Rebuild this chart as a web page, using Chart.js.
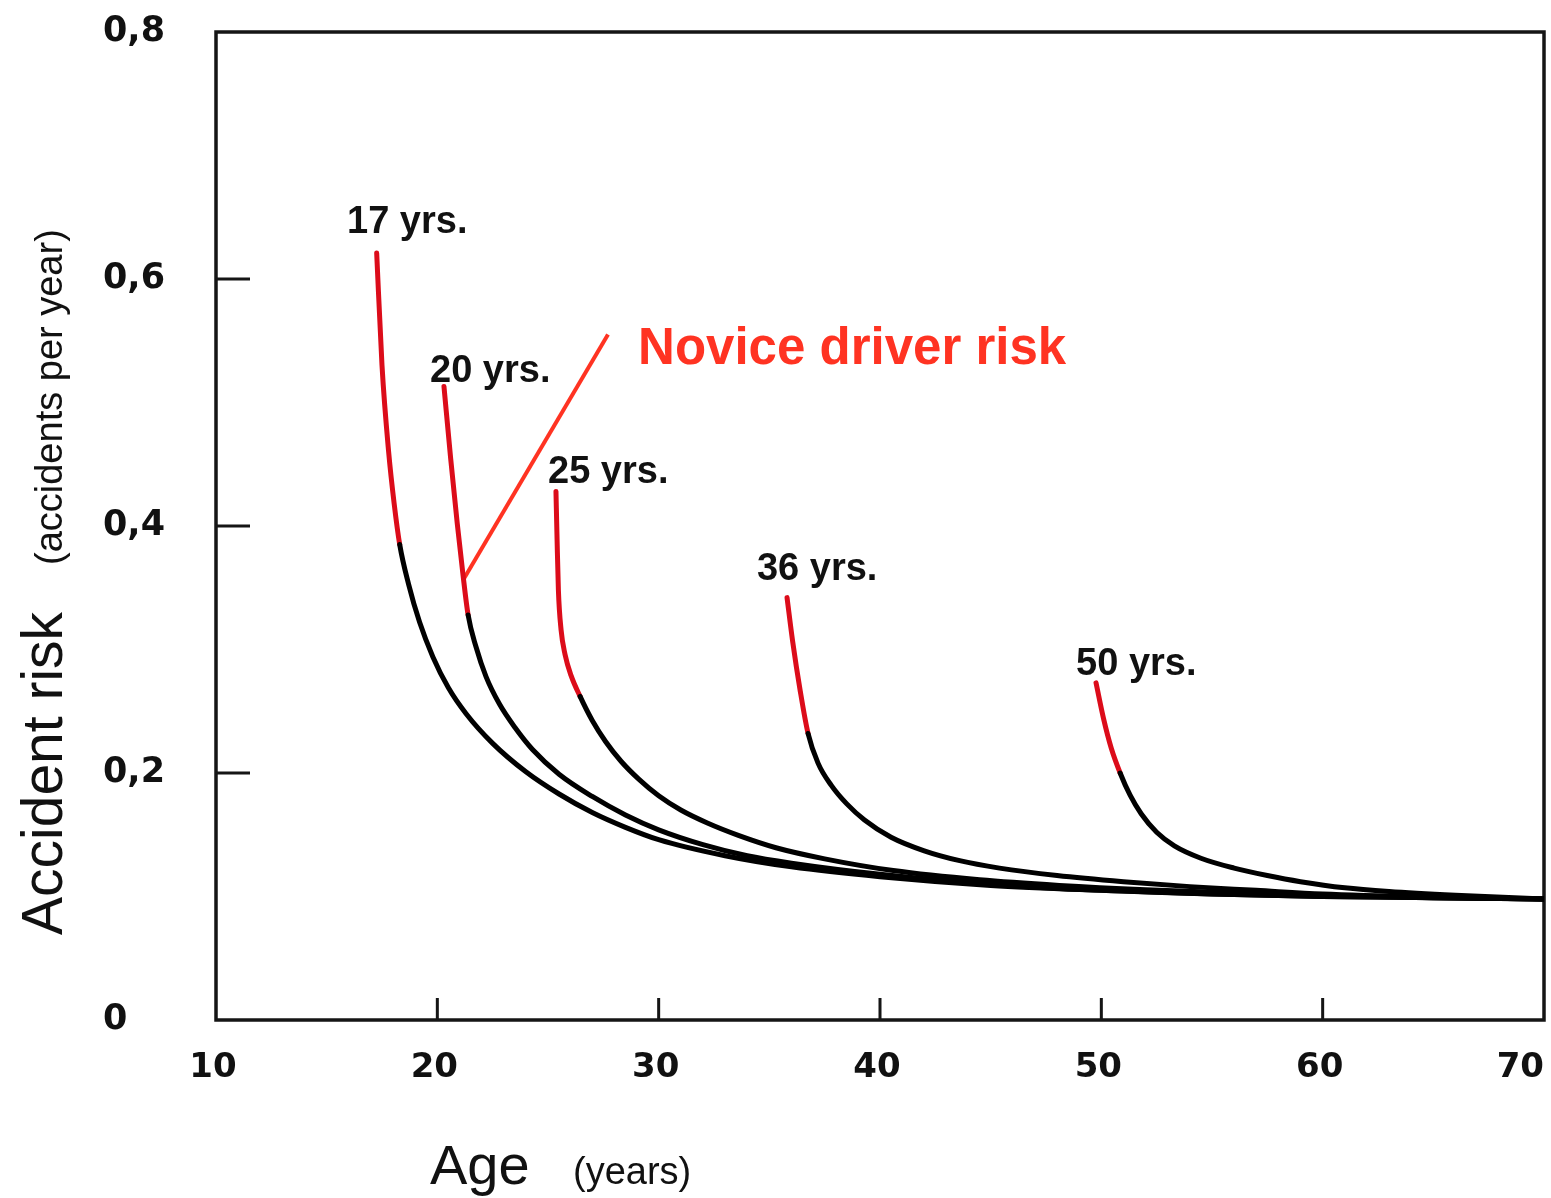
<!DOCTYPE html>
<html>
<head>
<meta charset="utf-8">
<script src="https://cdn.jsdelivr.net/npm/chart.js@4/dist/chart.umd.min.js"></script>
<style>
html,body{margin:0;padding:0;background:#fff;}
#wrap{width:1551px;height:1198px;position:relative;}
</style>
</head>
<body>
<div id="wrap"><canvas id="c" width="1551" height="1198"></canvas></div>
<script>
// ---- Data ----
const xTickValues = [10, 20, 30, 40, 50, 60, 70];
const yTickValues = [0, 0.2, 0.4, 0.6, 0.8];
const curveLabels = ['17 yrs.', '20 yrs.', '25 yrs.', '36 yrs.', '50 yrs.'];

// novice (red) part and later (black) part of each curve: [age, accidents per year]
const novice17 = [[17.26,0.621],[17.5,0.530],[17.8,0.460],[18.05,0.418],[18.3,0.385]];
const later17  = [[18.3,0.385],[18.7,0.353],[19.2,0.322],[19.8,0.294],[20.5,0.269],[21.3,0.248],[22.5,0.224],[24.0,0.201],[25.5,0.183],[27.0,0.168],[28.5,0.156],[30.0,0.146],[33.0,0.133],[36.0,0.124],[40.0,0.116],[45.0,0.109],[50.0,0.105],[55.0,0.102],[60.0,0.100],[65.0,0.099],[70.0,0.098]];

const novice20 = [[20.30,0.513],[20.60,0.455],[20.90,0.402],[21.15,0.362],[21.39,0.328]];
const later20  = [[21.39,0.328],[21.75,0.302],[22.2,0.278],[22.8,0.256],[23.5,0.237],[24.3,0.219],[25.5,0.199],[27.0,0.181],[28.5,0.166],[30.0,0.154],[32.0,0.142],[34.0,0.133],[36.0,0.127],[40.0,0.118],[45.0,0.110],[50.0,0.105],[55.0,0.102],[60.0,0.100],[65.0,0.099],[70.0,0.098]];

const novice25 = [[25.36,0.428],[25.41,0.389],[25.47,0.348],[25.59,0.316],[25.77,0.296],[26.04,0.279],[26.45,0.262]];
const later25  = [[26.45,0.262],[27.0,0.2425],[27.6,0.2255],[28.3,0.2095],[29.1,0.195],[30.0,0.1815],[31.0,0.170],[32.2,0.1595],[33.6,0.1495],[35.3,0.1395],[37.5,0.1305],[40.6,0.121],[44.5,0.1135],[48.1,0.109],[52.0,0.1055],[56.0,0.103],[60.0,0.101],[65.0,0.099],[70.0,0.098]];

const novice36 = [[35.80,0.342],[36.05,0.307],[36.4,0.266],[36.75,0.232]];
const later36  = [[36.75,0.232],[37.2,0.208],[37.8,0.190],[38.5,0.175],[39.3,0.162],[40.5,0.148],[42.0,0.137],[43.6,0.129],[45.4,0.123],[48.0,0.117],[51.0,0.112],[54.0,0.108],[57.0,0.105],[60.0,0.102],[65.0,0.0995],[70.0,0.098]];

const novice50 = [[49.76,0.273],[50.1,0.244],[50.45,0.220],[50.85,0.200]];
const later50  = [[50.85,0.200],[51.3,0.182],[51.8,0.167],[52.5,0.152],[53.3,0.141],[54.5,0.131],[56.0,0.123],[57.5,0.117],[59.0,0.112],[61.0,0.107],[63.0,0.104],[66.0,0.101],[70.0,0.098]];

// label anchors (left / baseline, in data units)
const labelAges   = [15.92, 19.67, 25.0, 34.44, 48.86];
const labelValues = [0.637, 0.517, 0.435, 0.356, 0.279];

// "Novice driver risk" pointer
const pointerLine = [[21.16,0.356],[27.71,0.555]];
const noviceText = 'Novice driver risk';
const noviceTextAt = [29.07, 0.531];

const novices = [novice17, novice20, novice25, novice36, novice50];
const laters  = [later17, later20, later25, later36, later50];

const RED = '#dc0c1a';
const ORANGE_RED = '#ff3322';
const toXY = arr => arr.map(p => ({x: p[0], y: p[1]}));

const datasets = [];
novices.forEach((nov, i) => {
  const redCount = nov.length - 1; // segments drawn red
  datasets.push({
    label: curveLabels[i],
    data: toXY(nov.concat(laters[i].slice(1))),
    borderColor: '#000', borderWidth: 5,
    showLine: true, pointRadius: 0, cubicInterpolationMode: 'monotone', fill: false,
    borderCapStyle: 'round',
    segment: { borderColor: c => c.p0DataIndex < redCount ? RED : '#000' }
  });
});
datasets.push({
  label: 'pointer', data: toXY(pointerLine), borderColor: ORANGE_RED, borderWidth: 4,
  showLine: true, pointRadius: 0, tension: 0, fill: false
});

const decorPlugin = {
  id: 'decor',
  beforeDatasetsDraw(chart) {
    const {ctx, chartArea: a, scales: {x, y}} = chart;
    ctx.save();
    ctx.strokeStyle = '#151515';
    ctx.lineWidth = 3.5;
    ctx.strokeRect(a.left, a.top, a.right - a.left, a.bottom - a.top);
    // inner tick marks
    ctx.lineWidth = 3;
    ctx.beginPath();
    xTickValues.forEach(v => {
      if (v === x.min || v === x.max) return;
      const px = x.getPixelForValue(v);
      ctx.moveTo(px, a.bottom); ctx.lineTo(px, a.bottom - 22);
    });
    yTickValues.forEach(v => {
      if (v === y.min || v === y.max) return;
      const py = y.getPixelForValue(v);
      ctx.moveTo(a.left, py); ctx.lineTo(a.left + 34, py);
    });
    ctx.stroke();
    ctx.restore();
  },
  afterDraw(chart) {
    const {ctx, chartArea: a, scales: {x, y}} = chart;
    ctx.save();
    // x tick labels
    ctx.fillStyle = '#111';
    ctx.font = 'bold 34px "DejaVu Sans"';
    ctx.textBaseline = 'middle';
    xTickValues.forEach((v, i) => {
      const px = x.getPixelForValue(v);
      if (i === xTickValues.length - 1) { ctx.textAlign = 'right'; ctx.fillText(String(v), a.right, a.bottom + 48); }
      else { ctx.textAlign = 'center'; ctx.fillText(String(v), px - 3, a.bottom + 48); }
    });
    // curve labels
    ctx.font = 'bold 38px "Liberation Sans", Arial, sans-serif';
    ctx.textAlign = 'left';
    ctx.textBaseline = 'alphabetic';
    curveLabels.forEach((t, i) => {
      ctx.fillText(t, x.getPixelForValue(labelAges[i]), y.getPixelForValue(labelValues[i]));
    });
    // novice driver risk
    ctx.fillStyle = ORANGE_RED;
    ctx.font = 'bold 51px "Liberation Sans", Arial, sans-serif';
    ctx.fillText(noviceText, x.getPixelForValue(noviceTextAt[0]), y.getPixelForValue(noviceTextAt[1]));
    // axis titles
    ctx.fillStyle = '#111';
    ctx.font = '56px "Liberation Sans", Arial, sans-serif';
    ctx.fillText('Age', 430, 1184);
    ctx.font = '38px "Liberation Sans", Arial, sans-serif';
    ctx.fillText('(years)', 573, 1184);
    ctx.save();
    ctx.translate(62, 935);
    ctx.rotate(-Math.PI / 2);
    ctx.font = '57px "Liberation Sans", Arial, sans-serif';
    ctx.fillText('Accident risk', 0, 0);
    ctx.restore();
    ctx.save();
    ctx.translate(62, 565);
    ctx.rotate(-Math.PI / 2);
    ctx.font = '38px "Liberation Sans", Arial, sans-serif';
    ctx.fillText('(accidents per year)', 0, 0);
    ctx.restore();
    ctx.restore();
  }
};

new Chart(document.getElementById('c'), {
  type: 'scatter',
  data: { datasets },
  options: {
    responsive: false,
    animation: false,
    devicePixelRatio: 1,
    layout: { padding: { left: 103, top: 32, right: 7, bottom: 0 } },
    plugins: { legend: { display: false }, tooltip: { enabled: false } },
    scales: {
      x: {
        type: 'linear', min: 10, max: 70,
        ticks: { display: false, stepSize: 10 },
        grid: { display: false },
        border: { display: false },
        afterFit: s => { s.height = 178; }
      },
      y: {
        type: 'linear', min: 0, max: 0.8,
        afterBuildTicks: s => { s.ticks = yTickValues.map(v => ({value: v})); },
        ticks: {
          crossAlign: 'far',
          color: '#111',
          font: { family: 'DejaVu Sans', weight: 'bold', size: 35 },
          callback: v => v === 0 ? '0' : v.toFixed(1).replace('.', ',')
        },
        grid: { display: false },
        border: { display: false },
        afterFit: s => { s.width = 113; }
      }
    }
  },
  plugins: [decorPlugin]
});
</script>
</body>
</html>
